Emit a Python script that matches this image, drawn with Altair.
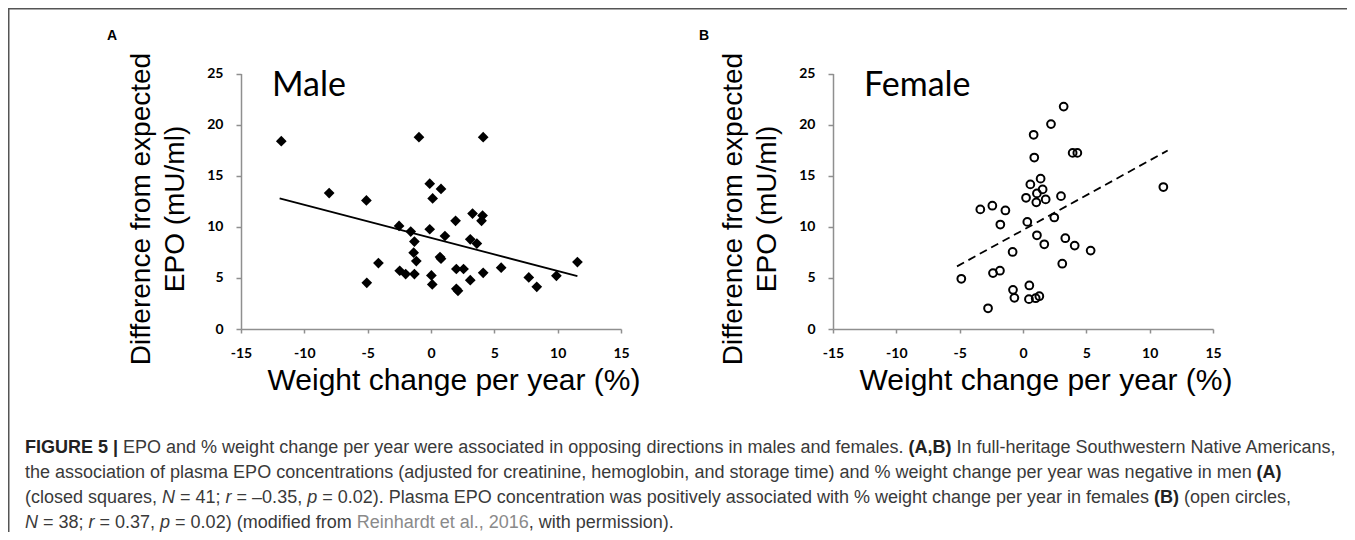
import altair as alt
import pandas as pd

# ---------------- data ----------------
male_x = [-11.82, -8.04, -5.10, -4.15, -5.07, -2.52, -2.47, -2.00, -1.60, -1.31,
          -1.37, -1.16, -1.31, -0.95, -0.10, 0.13, -0.10, 0.03, 0.10, 0.79,
          0.71, 0.79, 1.10, 1.94, 2.00, 2.00, 2.13, 2.57, 3.10, 3.10,
          3.28, 3.62, 4.07, 3.99, 4.12, 4.12, 5.54, 7.72, 8.35, 9.90, 11.56]
male_y = [18.38, 13.30, 12.58, 6.45, 4.52, 10.09, 5.70, 5.37, 9.53, 8.55,
          7.47, 6.65, 5.37, 18.77, 14.22, 12.78, 9.76, 5.24, 4.36, 13.70,
          7.04, 6.88, 9.10, 10.58, 5.87, 3.93, 3.74, 5.87, 8.78, 4.78,
          11.30, 8.36, 11.10, 10.58, 18.77, 5.50, 6.00, 5.05, 4.13, 5.20, 6.55]

female_x = [-4.87, -3.37, -2.42, -2.76, -2.37, -1.82, -1.39, -1.79, -0.82, -0.79,
            -0.68, 0.24, 0.34, 0.58, 0.50, 0.47, 0.84, 0.89, 1.05, 1.10,
            1.10, 1.00, 1.29, 1.39, 1.55, 1.79, 1.68, 2.21, 2.47, 3.00,
            3.10, 3.21, 3.34, 3.92, 4.29, 4.08, 5.34, 11.08]
female_y = [4.91, 11.70, 12.06, 2.03, 5.47, 5.70, 11.60, 10.22, 7.54, 3.83,
            3.05, 12.84, 10.48, 14.15, 4.26, 2.92, 19.00, 16.78, 12.39, 13.27,
            9.17, 3.01, 3.21, 14.71, 13.66, 12.68, 8.29, 20.05, 10.91, 13.00,
            6.39, 21.76, 8.88, 17.23, 17.23, 8.16, 7.67, 13.89]

male_fit_x = [-11.95, 11.56]
male_fit_y = [12.78, 5.18]
female_fit_x = [-5.21, 11.42]
female_fit_y = [6.13, 17.46]

x_ticks = [-15, -10, -5, 0, 5, 10, 15]
y_ticks = [0, 5, 10, 15, 20, 25]

panel_letters = ["A", "B"]
panel_titles = ["Male", "Female"]
y_title_lines = ["Difference from expected", "EPO (mU/ml)"]
x_title = "Weight change per year (%)"

# caption: each line is a list of (text, style); style: R regular, B bold, I italic, L link-grey
caption_segments = [
    [("FIGURE 5 |", "B"),
     (" EPO and % weight change per year were associated in opposing directions in males and females. ", "R"),
     ("(A,B)", "B"),
     (" In full-heritage Southwestern Native Americans,", "R")],
    [("the association of plasma EPO concentrations (adjusted for creatinine, hemoglobin, and storage time) and % weight change per year was negative in men ", "R"),
     ("(A)", "B")],
    [("(closed squares, ", "R"), ("N", "I"), (" = 41; ", "R"), ("r", "I"),
     (" = \u20130.35, ", "R"), ("p", "I"),
     (" = 0.02). Plasma EPO concentration was positively associated with % weight change per year in females ", "R"),
     ("(B)", "B"), (" (open circles,", "R")],
    [("N", "I"), (" = 38; ", "R"), ("r", "I"), (" = 0.37, ", "R"), ("p", "I"),
     (" = 0.02) (modified from ", "R"), ("Reinhardt et al., 2016", "L"),
     (", with permission).", "R")],
]

# ---------------- layout (pixels inside the chart) ----------------
W, H = 1339, 524
Y0, Y25 = 321, 65.5
PANEL_X = [(233, 613), (825, 1205)]

TITLE_FONT = "Liberation Sans"
TICK_FONT = "Lato"
AXIS_GRAY = "#8f8f8f"


def panel(px, py, fx, fy, xr, letter, name, open_marker, dashed):
    pts = pd.DataFrame({"x": px, "y": py})
    fit = pd.DataFrame({"x": fx, "y": fy})
    xs = alt.Scale(domain=[-15, 15], range=list(xr), nice=False, zero=False)
    ys = alt.Scale(domain=[0, 25], range=[Y0, Y25], nice=False, zero=False)
    common = dict(title=None, grid=False, labelFlush=False, labelExpr="'' + datum.value",
                  domainColor=AXIS_GRAY, domainWidth=1.5, tickColor=AXIS_GRAY,
                  tickWidth=1.5, labelFont=TICK_FONT, labelFontWeight="bold",
                  labelFontSize=14, labelColor="black")
    xa = alt.Axis(orient="bottom", offset=Y0 - H, values=x_ticks, tickSize=4,
                  labelPadding=13, **common)
    ya = alt.Axis(orient="left", offset=-xr[0], values=y_ticks, tickSize=5,
                  labelPadding=13, **common)
    if open_marker:
        pm = alt.Chart(pts).mark_point(shape="circle", filled=False, size=60,
                                       strokeWidth=2, color="black", opacity=1)
    else:
        pm = alt.Chart(pts).mark_point(shape="diamond", filled=True, size=115,
                                       color="black", opacity=1)
    pm = pm.encode(x=alt.X("x:Q", scale=xs, axis=xa), y=alt.Y("y:Q", scale=ys, axis=ya))
    lm_kw = dict(color="black", strokeWidth=1.8)
    if dashed:
        lm_kw["strokeDash"] = [8, 5]
    lm = alt.Chart(fit).mark_line(**lm_kw).encode(
        x=alt.X("x:Q", scale=xs), y=alt.Y("y:Q", scale=ys))

    x0 = xr[0]
    letter_t = alt.Chart(pd.DataFrame({"t": [letter]})).mark_text(
        font="Liberation Sans", fontWeight="bold", fontSize=14, align="left",
        baseline="alphabetic", color="black").encode(
        x=alt.value(x0 - 134), y=alt.value(32), text="t:N")
    name_t = alt.Chart(pd.DataFrame({"t": [name]})).mark_text(
        font="Lato", fontSize=34, align="left", baseline="alphabetic",
        color="black").encode(x=alt.value(x0 + 31), y=alt.value(88), text="t:N")
    yt1 = alt.Chart(pd.DataFrame({"t": [y_title_lines[0]]})).mark_text(
        font=TITLE_FONT, fontSize=28, angle=270, align="center",
        baseline="alphabetic", color="black").encode(
        x=alt.value(x0 - 91), y=alt.value(201), text="t:N")
    yt2 = alt.Chart(pd.DataFrame({"t": [y_title_lines[1]]})).mark_text(
        font=TITLE_FONT, fontSize=28, angle=270, align="center",
        baseline="alphabetic", color="black").encode(
        x=alt.value(x0 - 57), y=alt.value(201), text="t:N")
    xt = alt.Chart(pd.DataFrame({"t": [x_title]})).mark_text(
        font=TITLE_FONT, fontSize=30, align="center", baseline="alphabetic",
        color="black").encode(x=alt.value(x0 + 213), y=alt.value(382), text="t:N")
    return alt.layer(pm, lm), alt.layer(letter_t, name_t, yt1, yt2, xt)


male_plot, male_ann = panel(male_x, male_y, male_fit_x, male_fit_y, PANEL_X[0],
                            panel_letters[0], panel_titles[0], False, False)
female_plot, female_ann = panel(female_x, female_y, female_fit_x, female_fit_y, PANEL_X[1],
                                panel_letters[1], panel_titles[1], True, True)

plots = alt.layer(male_plot, female_plot).resolve_scale(x="independent", y="independent")

one = pd.DataFrame({"a": [0]})
frame_top = alt.Chart(one).mark_rule(color="#555555", strokeWidth=1.5).encode(
    x=alt.value(0), x2=alt.value(W), y=alt.value(0.75))
frame_left = alt.Chart(one).mark_rule(color="#555555", strokeWidth=1.5).encode(
    x=alt.value(0.75), y=alt.value(0), y2=alt.value(H))

# ---------------- caption, laid out segment by segment ----------------
AR = {' ': 278, '!': 278, '"': 355, '#': 556, '$': 556, '%': 889, '&': 667, "'": 191,
      '(': 333, ')': 333, '*': 389, '+': 584, ',': 278, '-': 333, '.': 278, '/': 278,
      ':': 278, ';': 278, '<': 584, '=': 584, '>': 584, '?': 556, '@': 1015,
      'A': 667, 'B': 667, 'C': 722, 'D': 722, 'E': 667, 'F': 611, 'G': 778, 'H': 722,
      'I': 278, 'J': 500, 'K': 667, 'L': 556, 'M': 833, 'N': 722, 'O': 778, 'P': 667,
      'Q': 778, 'R': 722, 'S': 667, 'T': 611, 'U': 722, 'V': 667, 'W': 944, 'X': 667,
      'Y': 667, 'Z': 611, 'a': 556, 'b': 556, 'c': 500, 'd': 556, 'e': 556, 'f': 278,
      'g': 556, 'h': 556, 'i': 222, 'j': 222, 'k': 500, 'l': 222, 'm': 833, 'n': 556,
      'o': 556, 'p': 556, 'q': 556, 'r': 333, 's': 500, 't': 278, 'u': 556, 'v': 500,
      'w': 722, 'x': 500, 'y': 500, 'z': 500, '|': 260, '\u2013': 556}
for d in "0123456789":
    AR[d] = 556
AB = dict(AR)
AB.update({'A': 722, 'B': 722, 'R': 722, 'U': 722, '|': 280, 'r': 389, 'p': 611,
           'N': 722})

CAP_FONT = "Liberation Sans"
CAP_SIZE = 18
CAP_X0 = 17
CAP_Y = [445, 470, 495, 520]
STYLE = {
    "R": dict(fontWeight="normal", fontStyle="normal", color="#3a3a3a"),
    "B": dict(fontWeight="bold", fontStyle="normal", color="#222222"),
    "I": dict(fontWeight="normal", fontStyle="italic", color="#3a3a3a"),
    "L": dict(fontWeight="normal", fontStyle="normal", color="#8a8a8a"),
}


def text_w(s, style):
    tab = AB if style == "B" else AR
    return sum(tab.get(c, 556) for c in s) * CAP_SIZE / 1000.0


cap_layers = []
for li, segs in enumerate(caption_segments):
    cx = CAP_X0
    for txt, st in segs:
        lead = len(txt) - len(txt.lstrip(" "))
        shown = txt.strip(" ")
        xpos = cx + text_w(" " * lead, "R")
        cx += text_w(txt, st)
        cap_layers.append(alt.Chart(pd.DataFrame({"t": [shown]})).mark_text(
            font=CAP_FONT, fontSize=CAP_SIZE, align="left", baseline="alphabetic",
            **STYLE[st]).encode(x=alt.value(round(xpos, 2)), y=alt.value(CAP_Y[li]), text="t:N"))

chart = alt.layer(plots, male_ann, female_ann, frame_top, frame_left, *cap_layers).properties(
    width=W, height=H, autosize=alt.AutoSizeParams(type="none"), padding=0
).configure_view(stroke=None)

chart.save("out.html", embed_options={"renderer": "svg", "actions": False})
